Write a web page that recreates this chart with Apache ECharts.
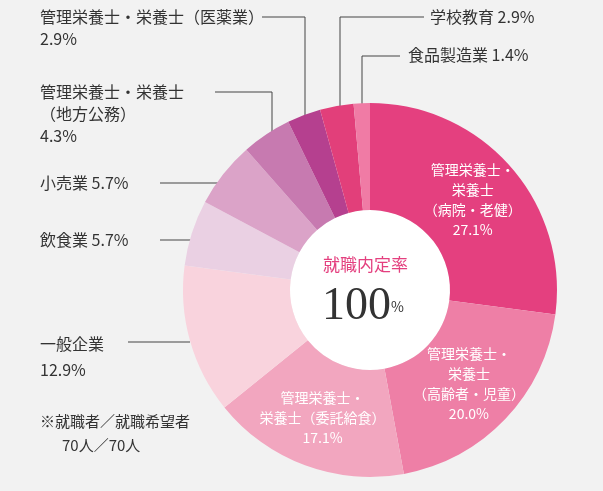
<!DOCTYPE html><html><head><meta charset="utf-8"><script src="https://cdn.jsdelivr.net/npm/echarts@6/dist/echarts.min.js"></script>
<style>html,body{margin:0;background:#f2f2f2}#c{width:603px;height:491px}</style></head><body><div id="c"></div><script>
const categories=['管理栄養士・\n栄養士\n（病院・老健）','管理栄養士・\n栄養士\n（高齢者・児童）','管理栄養士・\n栄養士（委託給食）','一般企業','飲食業','小売業','管理栄養士・栄養士（地方公務）','管理栄養士・栄養士（医薬業）','学校教育','食品製造業'];
const values=[27.1,20.0,17.1,12.9,5.7,5.7,4.3,2.9,2.9,1.4];
const colors=['#e4407f','#ee7fa6','#f2a6bf','#f9d3dd','#ead0e3','#dba3c8','#c77ab0','#b5408f','#e23f7a','#f07ba5'];
const F='"Noto Sans CJK JP",sans-serif';
const ch=echarts.init(document.getElementById('c'));
const T=(x,y,t,o)=>({type:'text',left:x,top:y,style:Object.assign({text:t,fill:'#333',font:'16px '+F,lineHeight:22},o||{})});
const L=(pts)=>({type:'polyline',shape:{points:pts},style:{stroke:'#444',lineWidth:1}});
ch.setOption({
 series:[{type:'pie',center:[370,290],radius:[80,187],startAngle:90,clockwise:true,silent:true,
  data:values.map((v,i)=>({value:v,name:categories[i],itemStyle:{color:colors[i]},
   label:i<3?{show:true,position:'inside',formatter:p=>p.name+'\n'+p.value.toFixed(1)+'%',color:'#fff',fontSize:14,lineHeight:20,fontFamily:F}:{show:false}})),
  labelLine:{show:false}}],
 graphic:[
  {type:'circle',shape:{cx:370,cy:290,r:80},style:{fill:'#fff'}},
  {type:'text',left:323,top:256,style:{text:'就職内定率',fill:'#e4407f',font:'17px '+F}},
  {type:'text',left:322,top:284,style:{rich:{a:{fontFamily:'"Liberation Serif",serif',fontSize:46,fill:'#333'},b:{fontSize:14,fill:'#333',fontFamily:F}},text:'{a|100}{b|%}'}},
  T(40,6,'管理栄養士・栄養士（医薬業）\n2.9%'),L([[262,17],[305,17],[305,118]]),
  T(430,6,'学校教育 2.9%'),L([[424,17],[340,17],[340,106]]),
  T(408,44,'食品製造業 1.4%'),L([[400,56],[362,56],[362,104]]),
  T(40,81,'管理栄養士・栄養士\n（地方公務）\n4.3%'),L([[215,92],[272,92],[272,138]]),
  T(40,172,'小売業 5.7%'),L([[160,183],[222,183]]),
  T(40,229,'飲食業 5.7%'),L([[160,240],[205,240]]),
  T(40,331,'一般企業\n12.9%',{lineHeight:26}),L([[128,342],[190,342]]),
  T(40,410,'※就職者／就職希望者',{font:'15px '+F}),T(62,434,'70人／70人',{font:'15px '+F})
 ]
});
</script></body></html>
